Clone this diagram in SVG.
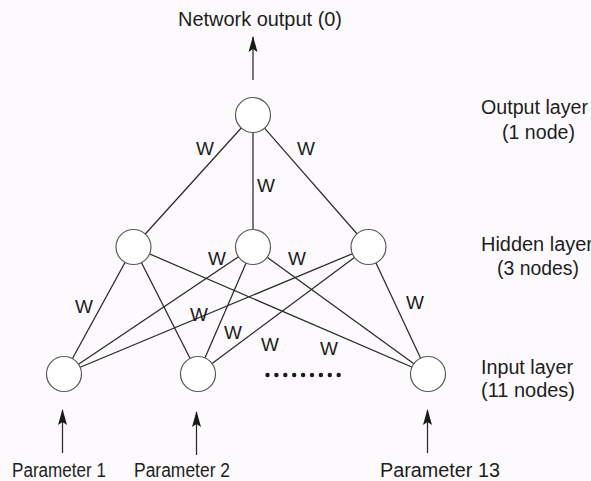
<svg xmlns="http://www.w3.org/2000/svg" width="591" height="481" viewBox="0 0 591 481">
<style>
text{font-family:"Liberation Sans",Arial,Helvetica,sans-serif;fill:#1e1e1e}
.lbl{font-size:19.5px}
.w{font-size:19px;text-anchor:middle}
.node{fill:#ffffff;stroke:#5a5a5a;stroke-width:1.2}
.edge{stroke:#2a2a2a;stroke-width:1.25;fill:none}
.arr{stroke:#2a2a2a;stroke-width:1.25;fill:none;marker-end:url(#ah)}
</style>
<defs>
<marker id="ah" viewBox="0 0 16 10" refX="15" refY="5" markerWidth="16" markerHeight="10" markerUnits="userSpaceOnUse" orient="auto">
<path d="M0,0.5 L16,5 L0,9.5 L3,5 Z" fill="#1a1a1a"/>
</marker>
</defs>
<rect width="591" height="481" fill="#fcfafc"/>
<g id="connectors">
<line class="edge" x1="253" y1="115" x2="133.5" y2="247"/>
<line class="edge" x1="253" y1="115" x2="253" y2="247"/>
<line class="edge" x1="253" y1="115" x2="368.5" y2="247"/>
<line class="edge" x1="64" y1="374" x2="133.5" y2="247"/>
<line class="edge" x1="64" y1="374" x2="253" y2="247"/>
<line class="edge" x1="64" y1="374" x2="368.5" y2="247"/>
<line class="edge" x1="198" y1="374" x2="133.5" y2="247"/>
<line class="edge" x1="198" y1="374" x2="253" y2="247"/>
<line class="edge" x1="198" y1="374" x2="368.5" y2="247"/>
<line class="edge" x1="428" y1="374" x2="133.5" y2="247"/>
<line class="edge" x1="428" y1="374" x2="253" y2="247"/>
<line class="edge" x1="428" y1="374" x2="368.5" y2="247"/>
<line class="arr" x1="253" y1="80" x2="253" y2="37"/>
<line class="arr" x1="62.5" y1="453" x2="62.5" y2="410"/>
<line class="arr" x1="196.5" y1="455" x2="196.5" y2="412"/>
<line class="arr" x1="427.5" y1="453" x2="427.5" y2="410"/>
</g>
<g id="output-node"><circle class="node" cx="253" cy="115" r="17.5"/></g>
<g id="hidden-1"><circle class="node" cx="133.5" cy="247" r="17.5"/></g>
<g id="hidden-2"><circle class="node" cx="253" cy="247" r="17.5"/></g>
<g id="hidden-3"><circle class="node" cx="368.5" cy="247" r="17.5"/></g>
<g id="input-1"><circle class="node" cx="64" cy="374" r="17.5"/></g>
<g id="input-2"><circle class="node" cx="198" cy="374" r="17.5"/></g>
<g id="input-3"><circle class="node" cx="428" cy="374" r="17.5"/></g>
<g id="ellipsis" fill="#1a1a1a">
<circle cx="267.5" cy="375" r="2.2"/><circle cx="276.4" cy="375" r="2.2"/><circle cx="285.3" cy="375" r="2.2"/>
<circle cx="294.2" cy="375" r="2.2"/><circle cx="303.1" cy="375" r="2.2"/><circle cx="312" cy="375" r="2.2"/>
<circle cx="320.9" cy="375" r="2.2"/><circle cx="329.8" cy="375" r="2.2"/><circle cx="338.7" cy="375" r="2.2"/>
</g>
<g id="weights">
<text class="w" x="205" y="155">W</text>
<text class="w" x="306" y="155">W</text>
<text class="w" x="266" y="192">W</text>
<text class="w" x="217" y="265">W</text>
<text class="w" x="297" y="265">W</text>
<text class="w" x="84" y="313">W</text>
<text class="w" x="199" y="321">W</text>
<text class="w" x="233" y="339">W</text>
<text class="w" x="270" y="351">W</text>
<text class="w" x="329" y="355">W</text>
<text class="w" x="415" y="309">W</text>
</g>
<g id="labels">
<text class="lbl" x="178" y="26" textLength="164" lengthAdjust="spacingAndGlyphs">Network output (0)</text>
<text class="lbl" x="481" y="114" textLength="107" lengthAdjust="spacingAndGlyphs">Output layer</text>
<text class="lbl" x="502" y="139" textLength="73" lengthAdjust="spacingAndGlyphs">(1 node)</text>
<text class="lbl" x="481" y="251" textLength="112" lengthAdjust="spacingAndGlyphs">Hidden layer</text>
<text class="lbl" x="497" y="275" textLength="82" lengthAdjust="spacingAndGlyphs">(3 nodes)</text>
<text class="lbl" x="481" y="374" textLength="92" lengthAdjust="spacingAndGlyphs">Input layer</text>
<text class="lbl" x="481" y="397" textLength="94" lengthAdjust="spacingAndGlyphs">(11 nodes)</text>
<text class="lbl" x="12" y="477" textLength="94" lengthAdjust="spacingAndGlyphs">Parameter 1</text>
<text class="lbl" x="134" y="477" textLength="96" lengthAdjust="spacingAndGlyphs">Parameter 2</text>
<text class="lbl" x="380" y="477" textLength="120" lengthAdjust="spacingAndGlyphs">Parameter 13</text>
</g>
</svg>
